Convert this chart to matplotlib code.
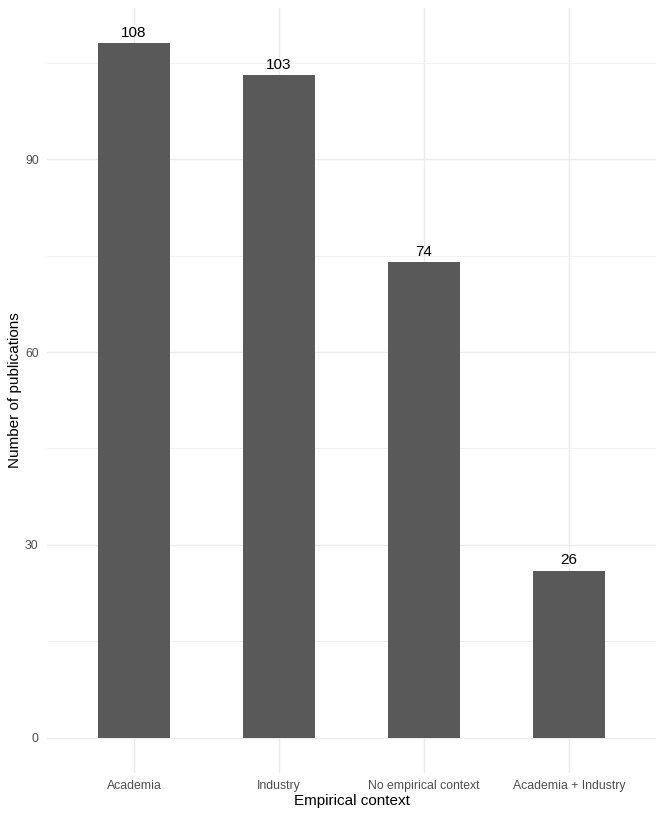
import matplotlib
matplotlib.use("Agg")
import matplotlib.pyplot as plt
from matplotlib.ticker import MultipleLocator

categories = ["Academia", "Industry", "No empirical context", "Academia + Industry"]
counts = [108, 103, 74, 26]
yticks = [0, 30, 60, 90]

plt.rcParams['font.family'] = ['Liberation Sans', 'DejaVu Sans']

fig = plt.figure(figsize=(6.64, 8.18), dpi=100)
ax = fig.add_axes([47/664, 45.3/818, (656-47)/664, (772.7-8.5)/818])

x = list(range(1, len(categories) + 1))
ax.bar(x, counts, width=0.5, color="#595959", zorder=2)
for xi, c in zip(x, counts):
    ax.text(xi, c + 0.5, str(c), ha="center", va="bottom", fontsize=11, color="black", zorder=3)

ymax = max(counts)
ax.set_ylim(-0.05 * ymax, ymax * 1.05)
ax.set_xlim(0.4, len(categories) + 0.6)
ax.set_yticks(yticks)
ax.yaxis.set_minor_locator(MultipleLocator(15))
ax.set_xticks(x)
ax.set_xticklabels(categories)
ax.tick_params(axis="both", which="both", length=0, colors="#4D4D4D", labelsize=8.8)
ax.tick_params(axis="x", pad=5)
ax.tick_params(axis="y", pad=6)
ax.grid(which="major", color="#EBEBEB", linewidth=1.0, zorder=0)
ax.grid(which="minor", axis="y", color="#EBEBEB", linewidth=0.5, zorder=0)
ax.set_axisbelow(True)
for s in ax.spines.values():
    s.set_visible(False)
ax.set_xlabel("Empirical context", fontsize=11, labelpad=2)
ax.set_ylabel("Number of publications", fontsize=11, labelpad=2)

fig.savefig("out.png", dpi=100, facecolor="white")
